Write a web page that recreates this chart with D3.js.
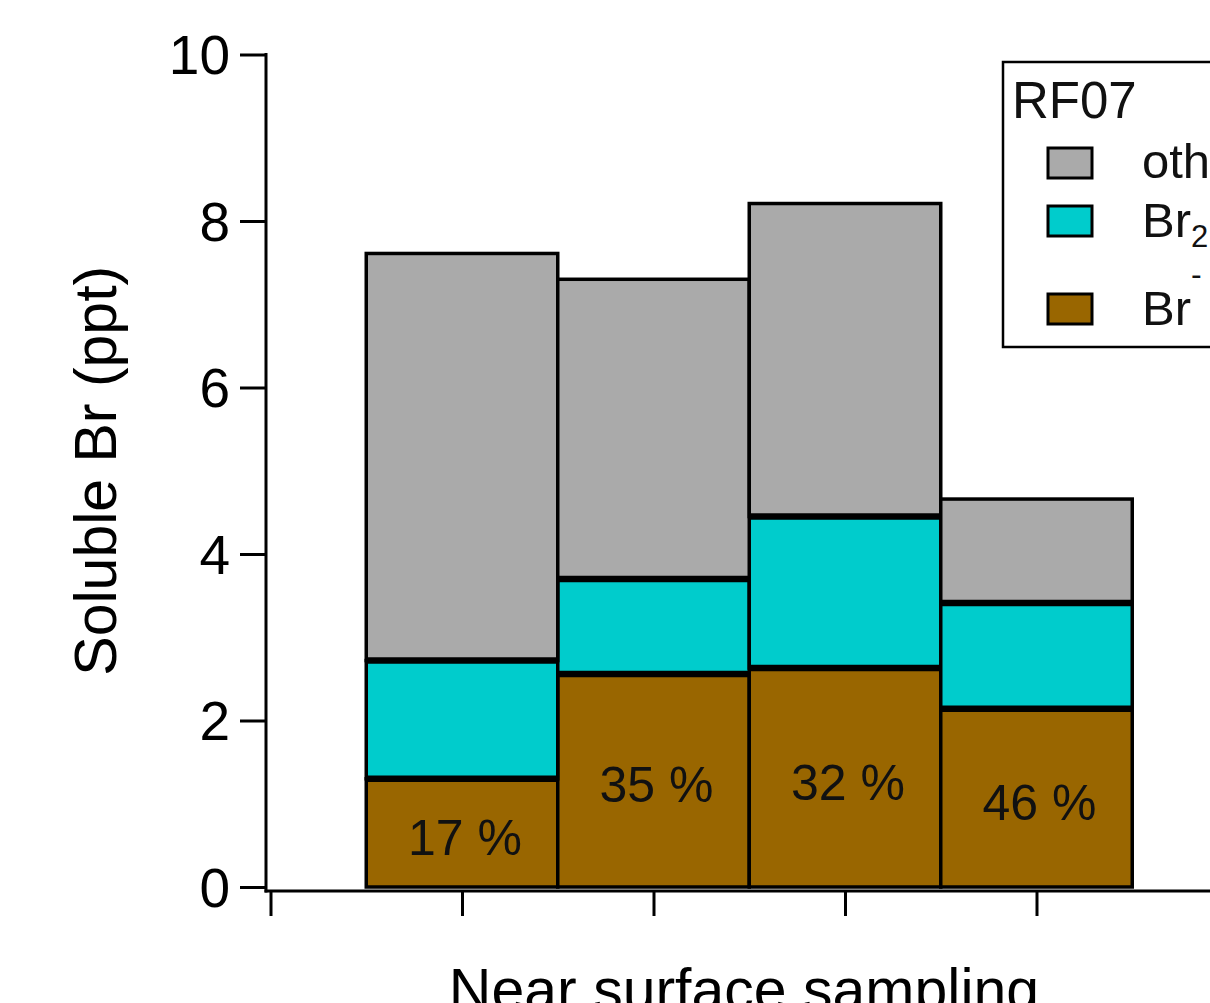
<!DOCTYPE html>
<html>
<head>
<meta charset="utf-8">
<script src="https://cdn.jsdelivr.net/npm/d3@7"></script>
<style>
  html, body { margin: 0; padding: 0; background: #fff; overflow: hidden; }
  svg { display: block; font-family: "Liberation Sans", Arial, sans-serif; }
</style>
</head>
<body>
<svg id="chart" width="1210" height="1003"></svg>
<script>
// Soluble bromine speciation, RF07 near-surface samples (ppt)
const samples = [1, 2, 3, 4];
const brMinus = [1.30, 2.56, 2.63, 2.14];
const br2     = [1.42, 1.14, 1.82, 1.27];
const other   = [4.89, 3.60, 3.76, 1.25];
const yTicks  = [0, 2, 4, 6, 8, 10];
const xTicks  = [0, 1, 2, 3, 4, 5];
const seriesKeys   = ["brMinus", "br2", "other"];
const seriesColors = { brMinus: "#996600", br2: "#00cccc", other: "#aaaaaa" };

const rows = samples.map((s, i) => ({
  sample: s, brMinus: brMinus[i], br2: br2[i], other: other[i]
}));

const svg = d3.select("#chart");

const y = d3.scaleLinear().domain([0, 10]).range([887, 54.5]);
const x = d3.scaleLinear().domain([0, 5]).range([270.5, 1228]);
const axisX = 266;      // y-axis line position
const axisY = 891;      // x-axis line position

// stacked bars
const stacked = d3.stack().keys(seriesKeys)(rows);

const layers = svg.append("g").selectAll("g")
  .data(stacked).join("g")
  .attr("fill", d => seriesColors[d.key]);

layers.selectAll("rect")
  .data(d => d)
  .join("rect")
  .attr("x", d => x(d.data.sample - 0.5))
  .attr("width", d => x(d.data.sample + 0.5) - x(d.data.sample - 0.5))
  .attr("y", d => y(d[1]))
  .attr("height", d => y(d[0]) - y(d[1]))
  .attr("stroke", "#000")
  .attr("stroke-width", 3.5);

// heavier separators between stacked segments
stacked.slice(0, -1).forEach(layer => {
  svg.append("g").selectAll("line")
    .data(layer).join("line")
    .attr("x1", d => x(d.data.sample - 0.5))
    .attr("x2", d => x(d.data.sample + 0.5))
    .attr("y1", d => y(d[1]))
    .attr("y2", d => y(d[1]))
    .attr("stroke", "#000")
    .attr("stroke-width", 6.5);
});

// Br- share of each total
svg.append("g").selectAll("text")
  .data(rows).join("text")
  .attr("x", d => x(d.sample) + 3)
  .attr("y", d => y(d.brMinus / 2) + 5)
  .attr("text-anchor", "middle")
  .attr("dominant-baseline", "central")
  .attr("font-size", 50)
  .attr("fill", "#111")
  .text(d => Math.round(d.brMinus / (d.brMinus + d.br2 + d.other) * 100) + " %");

// y axis
const gy = svg.append("g")
  .attr("transform", `translate(${axisX},0)`)
  .call(d3.axisLeft(y).tickValues(yTicks).tickSize(26).tickSizeOuter(0).tickPadding(10).tickFormat(d3.format("d")));
gy.select(".domain").remove();
gy.selectAll(".tick line").attr("stroke", "#000").attr("stroke-width", 3);
gy.selectAll(".tick text")
  .attr("font-size", 55)
  .attr("font-family", "Liberation Sans, Arial, sans-serif")
  .attr("fill", "#000")
  .attr("dy", "0.35em");
svg.append("line")
  .attr("x1", axisX).attr("x2", axisX)
  .attr("y1", y(10) - 1.5).attr("y2", axisY + 1.5)
  .attr("stroke", "#000").attr("stroke-width", 3);

// x axis
const gx = svg.append("g")
  .attr("transform", `translate(0,${axisY})`)
  .call(d3.axisBottom(x).tickValues(xTicks).tickSize(25).tickSizeOuter(0).tickFormat(""));
gx.select(".domain").remove();
gx.selectAll(".tick line").attr("stroke", "#000").attr("stroke-width", 3);
svg.append("line")
  .attr("x1", axisX - 1.5).attr("x2", 1215)
  .attr("y1", axisY).attr("y2", axisY)
  .attr("stroke", "#000").attr("stroke-width", 3);

// axis titles
svg.append("text")
  .attr("transform", `translate(116,${(y(0) + y(10)) / 2}) rotate(-90)`)
  .attr("text-anchor", "middle")
  .attr("font-size", 59)
  .attr("fill", "#000")
  .text("Soluble Br (ppt)");

svg.append("text")
  .attr("x", 744)
  .attr("y", 1010)
  .attr("text-anchor", "middle")
  .attr("font-size", 59)
  .attr("fill", "#000")
  .text("Near surface sampling");

// legend
const legend = svg.append("g");
legend.append("rect")
  .attr("x", 1003).attr("y", 62)
  .attr("width", 260).attr("height", 285)
  .attr("fill", "#fff")
  .attr("stroke", "#000").attr("stroke-width", 2.5);
legend.append("text")
  .attr("x", 1012).attr("y", 118)
  .attr("font-size", 51).attr("fill", "#111")
  .text("RF07");

const legendItems = [
  { key: "other",   top: 148, base: 178 },
  { key: "br2",     top: 206, base: 237 },
  { key: "brMinus", top: 294, base: 325 }
];
legend.selectAll("rect.sw")
  .data(legendItems).join("rect")
  .attr("class", "sw")
  .attr("x", 1048).attr("y", d => d.top)
  .attr("width", 44).attr("height", 30)
  .attr("fill", d => seriesColors[d.key])
  .attr("stroke", "#000").attr("stroke-width", 3);

const lt = legend.append("g").attr("font-size", 49).attr("fill", "#111");
lt.append("text").attr("x", 1142).attr("y", 178).text("other");
const t2 = lt.append("text").attr("x", 1142).attr("y", 237);
t2.append("tspan").text("Br");
t2.append("tspan").attr("font-size", 31).attr("dy", 10).text("2");
const t3 = lt.append("text").attr("x", 1142).attr("y", 325);
t3.append("tspan").text("Br");
t3.append("tspan").attr("font-size", 32).attr("dy", -40).text("-");
</script>
</body>
</html>
